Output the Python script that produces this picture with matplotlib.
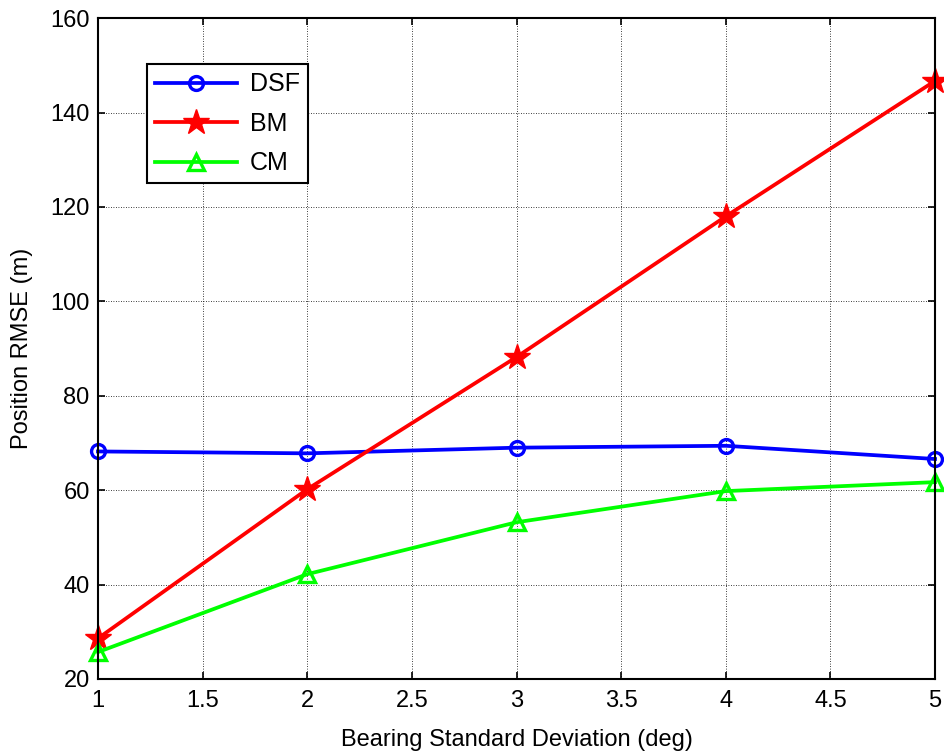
import matplotlib
matplotlib.use("Agg")
import matplotlib.pyplot as plt

plt.rcParams["font.family"] = ["Liberation Sans", "DejaVu Sans"]

bearing_std = [1, 2, 3, 4, 5]
dsf_rmse = [68.2, 67.8, 69.0, 69.4, 66.6]
bm_rmse = [28.6, 60.2, 88.2, 118.0, 146.7]
cm_rmse = [25.7, 42.2, 53.2, 59.8, 61.7]

fig = plt.figure(figsize=(9.44, 7.55), dpi=100)
ax = fig.add_axes([0.1038, 0.1007, 0.8867, 0.8753])

ax.plot(bearing_std, dsf_rmse, color="#0000ff", linewidth=2.7, marker="o",
        markersize=10, markerfacecolor="none", markeredgewidth=2.4, label="DSF",
        clip_on=False)
ax.plot(bearing_std, bm_rmse, color="#ff0000", linewidth=2.7, marker="*",
        markersize=19, markerfacecolor="#ff0000", markeredgewidth=1, label="BM",
        clip_on=False)
ax.plot(bearing_std, cm_rmse, color="#00ff00", linewidth=2.7, marker="^",
        markersize=12, markerfacecolor="none", markeredgewidth=2.4, label="CM",
        clip_on=False)

ax.set_xlim(1, 5)
ax.set_ylim(20, 160)
ax.set_xticks([1, 1.5, 2, 2.5, 3, 3.5, 4, 4.5, 5])
ax.set_xticklabels(["1", "1.5", "2", "2.5", "3", "3.5", "4", "4.5", "5"])
ax.set_yticks(range(20, 161, 20))
ax.tick_params(direction="in", labelsize=17, length=5, width=1.2, top=True, right=True)
ax.tick_params(axis="x", pad=8)
ax.tick_params(axis="y", pad=6)
for spine in ax.spines.values():
    spine.set_linewidth(1.5)
ax.grid(True, color="black", linestyle=(0, (1, 2)), linewidth=0.6)

ax.set_xlabel("Bearing Standard Deviation (deg)", fontsize=17, labelpad=12)
ax.set_ylabel("Position RMSE (m)", fontsize=17, labelpad=12)

leg = ax.legend(loc="upper left", bbox_to_anchor=(0.0585, 0.930), borderaxespad=0,
                fontsize=18, fancybox=False, edgecolor="black", framealpha=1,
                handlelength=3.3, handletextpad=0.5, borderpad=0.32, labelspacing=0.62)
leg.get_frame().set_linewidth(1.5)

fig.savefig("out.png", dpi=100)
